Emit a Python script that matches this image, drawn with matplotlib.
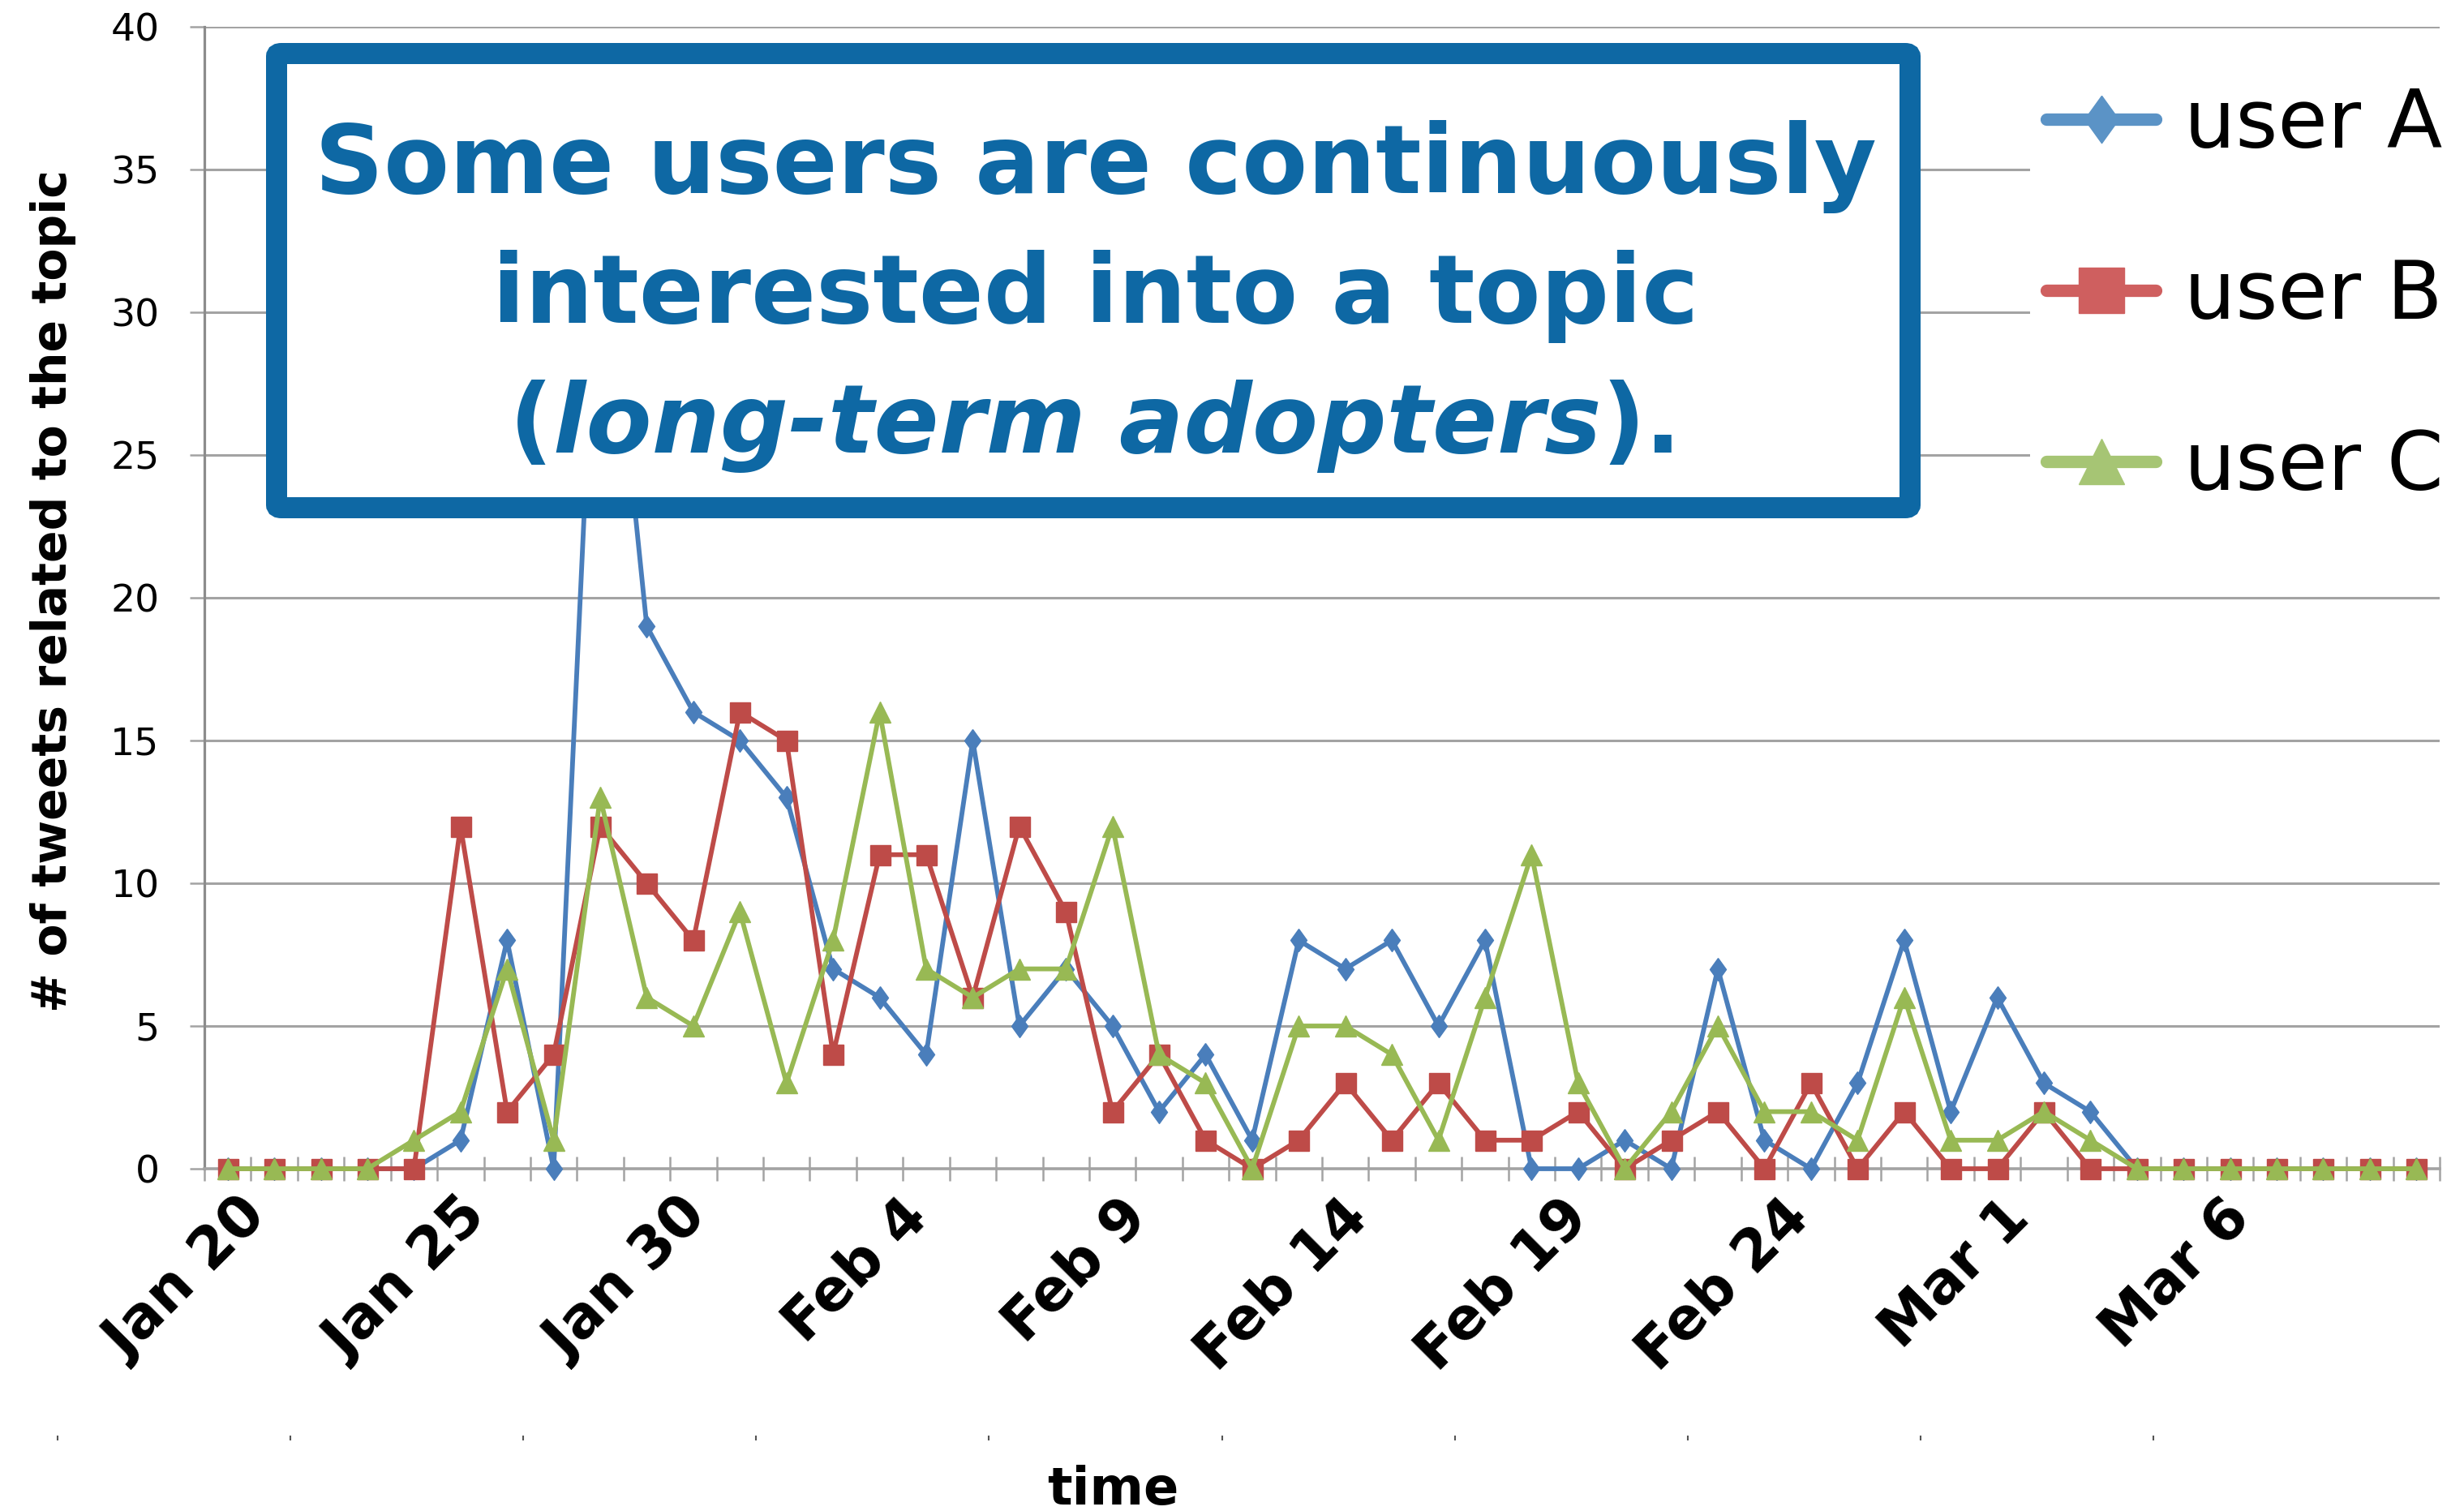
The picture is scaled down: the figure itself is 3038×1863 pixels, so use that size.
import numpy as np
import matplotlib
matplotlib.use("Agg")
from matplotlib import pyplot as plt
from matplotlib.lines import Line2D
from matplotlib.patches import FancyBboxPatch
import matplotlib.transforms as mtrans

# tweets per day about the topic, one value per day from Jan 20 to Mar 8
user_a = [0, 0, 0, 0, 0, 1, 8, 0, 35, 19, 16, 15, 13, 7, 6, 4, 15, 5, 7, 5,
          2, 4, 1, 8, 7, 8, 5, 8, 0, 0, 1, 0, 7, 1, 0, 3, 8, 2, 6, 3,
          2, 0, 0, 0, 0, 0, 0, 0]
user_b = [0, 0, 0, 0, 0, 12, 2, 4, 12, 10, 8, 16, 15, 4, 11, 11, 6, 12, 9, 2,
          4, 1, 0, 1, 3, 1, 3, 1, 1, 2, 0, 1, 2, 0, 3, 0, 2, 0, 0, 2,
          0, 0, 0, 0, 0, 0, 0, 0]
user_c = [0, 0, 0, 0, 1, 2, 7, 1, 13, 6, 5, 9, 3, 8, 16, 7, 6, 7, 7, 12,
          4, 3, 0, 5, 5, 4, 1, 6, 11, 3, 0, 2, 5, 2, 2, 1, 6, 1, 1, 2,
          1, 0, 0, 0, 0, 0, 0, 0]
series_names = ["user A", "user B", "user C"]
tick_labels = ["Jan 20", "Jan 25", "Jan 30", "Feb 4", "Feb 9",
               "Feb 14", "Feb 19", "Feb 24", "Mar 1", "Mar 6"]
y_ticks = [0, 5, 10, 15, 20, 25, 30, 35, 40]

W, H, DPI = 3038, 1863, 100
fig = plt.figure(figsize=(W / DPI, H / DPI), dpi=DPI)


def fx(x):
    return x / W


def fy(y):
    # pixel rows are counted from the top
    return 1 - y / H


ax = fig.add_axes([fx(252), fy(1441), fx(3008 - 252), (1441 - 33) / H])

days = np.arange(len(user_a))
line_colors = ["#4a7ebb", "#be4b48", "#98b954"]
diamond = [(0, 0.5), (0.36, 0), (0, -0.5), (-0.36, 0), (0, 0.5)]
markers = [diamond, "s", "^"]
msizes = [20, 18, 19]

for vals, c, m, ms in zip([user_a, user_b, user_c], line_colors, markers, msizes):
    ax.plot(days, vals, color=c, lw=4.2, marker=m, ms=ms, mfc=c, mec=c,
            clip_on=False, zorder=3)

ax.set_xlim(-0.5, len(days) - 0.5)
ax.set_ylim(0, 40)

# grid + axes styling
grid_c = "#a3a3a3"
ax.set_yticks(y_ticks)
ax.yaxis.grid(True, color=grid_c, lw=2.2)
ax.set_axisbelow(True)
for s in ["top", "right"]:
    ax.spines[s].set_visible(False)
ax.spines["left"].set_color("#8c8c8c")
ax.spines["left"].set_linewidth(2.3)
ax.spines["bottom"].set_color(grid_c)
ax.spines["bottom"].set_linewidth(2.6)
ax.tick_params(axis="y", direction="out", length=13, width=1.8, color=grid_c,
               pad=27, labelsize=34)

# category ticks between the days, labels on every 5th day
ax.set_xticks(days[::5], tick_labels)
ax.set_xticks(np.arange(-0.5, len(days)), minor=True)
ax.tick_params(axis="x", which="major", length=0, pad=0)
ax.tick_params(axis="x", which="minor", direction="inout", length=22,
               width=1.8, color=grid_c)
for k, lbl in enumerate(ax.get_xticklabels()):
    # labels drift a little to the left along the axis
    shift = mtrans.ScaledTranslation((12 - 15.3 * k) / DPI, -25 / DPI,
                                     fig.dpi_scale_trans)
    lbl.set_rotation(45)
    lbl.set_ha("right")
    lbl.set_va("top")
    lbl.set_rotation_mode("anchor")
    lbl.set_fontsize(51)
    lbl.set_fontweight("bold")
    lbl.set_transform(lbl.get_transform() + shift)

# faint marks left under the labels
dots = [d - 3.65 for d in days[::5]]
ax.plot(dots, [fy(1773)] * len(dots), ls="none", marker="|", ms=4, mew=1.5,
        color="#555555", clip_on=False,
        transform=mtrans.blended_transform_factory(ax.transData, fig.transFigure))

fig.text(fx(66), fy(729), "# of tweets related to the topic", rotation=90,
         ha="center", va="center", fontsize=42, fontweight="bold")
fig.text(fx(1372), fy(1855), "time", ha="center", va="baseline",
         fontsize=46, fontweight="bold")

# legend
legend_colors = ["#5b93c6", "#cf5f5f", "#a6c574"]
legend_markers = [diamond, "s", "^"]
legend_ms = [42, 41, 41]
handles = [Line2D([], [], color=c, lw=11, marker=m, ms=ms, mfc=c, mec=c,
                  solid_capstyle="round")
           for c, m, ms in zip(legend_colors, legend_markers, legend_ms)]
fig.legend(handles, series_names, loc="upper left",
           bbox_to_anchor=(fx(2503), fy(86)), borderaxespad=0, borderpad=0.2,
           fontsize=72, handlelength=1.35, handletextpad=0.35,
           labelspacing=1.14, frameon=True, fancybox=False,
           facecolor="white", edgecolor="none", framealpha=1)

# callout box
blue = "#0e68a4"
box = FancyBboxPatch((fx(341), fy(626)), fx(2355 - 341), (626 - 66) / H,
                     boxstyle="round,pad=0,rounding_size=0.002",
                     transform=fig.transFigure, facecolor="white",
                     edgecolor=blue, lw=26 * 72 / DPI, zorder=5)
fig.patches.append(box)

cx = 1351
txt_kw = dict(color=blue, fontsize=85, fontweight="bold", va="baseline",
              zorder=6)
fig.text(fx(cx), fy(238), "Some users are continuously", ha="center", **txt_kw)
fig.text(fx(cx), fy(398), "interested into a topic", ha="center", **txt_kw)

parts = [("(", "normal"), ("long-term adopters", "italic"), (").", "normal")]
pieces = [fig.text(0, fy(558), t, ha="left", style=st, **txt_kw) for t, st in parts]
fig.canvas.draw()
rend = fig.canvas.get_renderer()
widths = [p.get_window_extent(rend).width for p in pieces]
x0 = cx - sum(widths) / 2
for p, w in zip(pieces, widths):
    p.set_x(fx(x0))
    x0 += w

fig.savefig("out.png", dpi=DPI)
